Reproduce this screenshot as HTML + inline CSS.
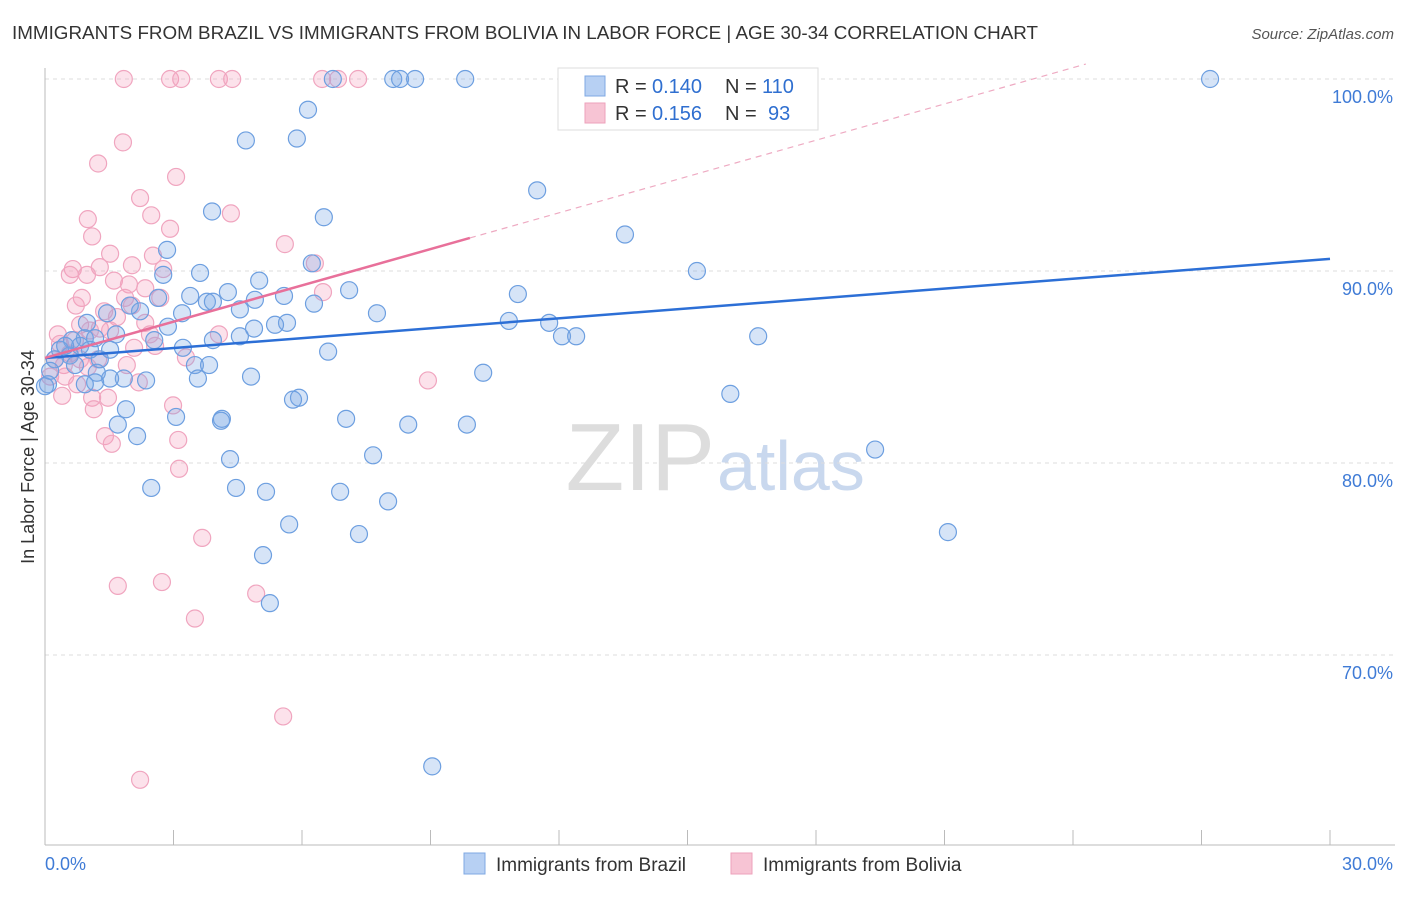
<!DOCTYPE html>
<html><head><meta charset="utf-8"><style>
body{margin:0;background:#fff;font-family:"Liberation Sans",sans-serif;}
svg text{font-family:"Liberation Sans",sans-serif;}
</style></head><body>
<svg id="c" width="1406" height="892" xmlns="http://www.w3.org/2000/svg">
<text x="12" y="39" font-size="18" fill="#333" textLength="1026" lengthAdjust="spacingAndGlyphs">IMMIGRANTS FROM BRAZIL VS IMMIGRANTS FROM BOLIVIA IN LABOR FORCE | AGE 30-34 CORRELATION CHART</text>
<text x="1394" y="39" font-size="15" fill="#555" font-style="italic" text-anchor="end">Source: ZipAtlas.com</text>
<text x="34" y="457" font-size="18" fill="#333" text-anchor="middle" transform="rotate(-90 34 457)">In Labor Force | Age 30-34</text>
<text x="715" y="490" font-size="96" fill="#ddd" text-anchor="end" font-family="Liberation Serif">ZIP</text>
<text x="717" y="490" font-size="70" fill="#c9d8ee">atlas</text>
<g id="grid"></g><g id="pts"></g><g id="lines"></g>
<g>
<rect x="558" y="68" width="260" height="62" fill="#fff" stroke="#ddd"/>
<rect x="585" y="76" width="20" height="20" fill="#b7d0f3" stroke="#7fa8e3"/>
<rect x="585" y="103" width="20" height="20" fill="#f7c4d4" stroke="#eea2bb"/>
<text x="615" y="93" font-size="20" fill="#333">R =</text>
<text x="652" y="93" font-size="20" fill="#2f6fd0">0.140</text>
<text x="725" y="93" font-size="20" fill="#333">N =</text>
<text x="762" y="93" font-size="20" fill="#2f6fd0">110</text>
<text x="615" y="120" font-size="20" fill="#333">R =</text>
<text x="652" y="120" font-size="20" fill="#2f6fd0">0.156</text>
<text x="725" y="120" font-size="20" fill="#333">N =</text>
<text x="768" y="120" font-size="20" fill="#2f6fd0">93</text>
</g>
<g>
<rect x="464" y="853" width="21" height="21" fill="#b7d0f3" stroke="#7fa8e3"/>
<text x="496" y="871" font-size="19" fill="#333">Immigrants from Brazil</text>
<rect x="731" y="853" width="21" height="21" fill="#f7c4d4" stroke="#eea2bb"/>
<text x="763" y="871" font-size="19" fill="#333">Immigrants from Bolivia</text>
</g>
<text x="45" y="870" font-size="18" fill="#3f7bd6">0.0%</text>
<text x="1393" y="870" font-size="18" fill="#3f7bd6" text-anchor="end">30.0%</text>
</svg>
<script>
const yTicks=[100,90,80,70];
const xTicksCount=10;
const brazilX=[8.13,8.29,8.64,9.81,6.72,27.2,6.14,4.69,5.88,11.49,3.90,6.51,13.54,2.85,6.23,3.62,2.76,15.22,5.00,4.27,7.10,11.04,3.39,3.78,2.64,5.58,3.92,6.28,4.55,4.90,7.75,3.20,10.83,11.77,5.65,5.37,4.88,4.55,12.07,12.40,16.65,2.87,2.22,1.98,1.45,0.98,0.93,1.17,0.63,1.66,2.55,3.92,3.22,6.61,3.50,3.83,3.57,4.81,2.36,1.84,1.52,1.21,1.17,10.23,16.0,5.93,5.79,1.89,3.06,4.13,4.11,7.03,8.48,9.85,1.70,2.15,7.66,4.32,19.38,2.48,4.46,5.16,6.89,8.01,5.70,7.33,21.08,5.09,5.25,9.04,0.35,0.58,0.23,0.82,0.12,0.47,0.70,1.05,1.28,0.07,0.93,1.52,0.0];
const brazilY=[100,100,100,100,100,100,98.4,96.8,96.9,94.2,93.1,92.8,91.9,91.1,90.4,89.9,89.8,90.0,89.5,88.9,89.0,88.8,88.7,88.4,88.6,88.7,88.4,88.3,88.0,88.5,87.8,87.8,87.4,87.3,87.3,87.2,87.0,86.6,86.6,86.6,86.6,87.1,87.9,88.2,87.8,87.3,86.5,86.5,86.4,86.7,86.4,86.4,86.0,85.8,85.1,85.1,84.4,84.5,84.3,84.4,84.4,84.7,84.2,84.7,83.6,83.4,83.3,82.8,82.4,82.3,82.2,82.3,82.0,82.0,82.0,81.4,80.4,80.2,80.7,78.7,78.7,78.5,78.5,78.0,76.8,76.3,76.4,75.2,72.7,64.2,85.9,85.6,85.4,86.1,84.8,86.1,85.1,85.9,85.4,84.1,84.1,85.9,84.0];
const boliviaX=[1.84,2.92,3.18,4.06,4.37,6.47,6.84,7.31,1.82,1.24,3.06,2.22,2.48,1.00,2.92,1.10,4.34,5.60,1.52,2.52,6.30,2.03,0.65,1.28,2.76,0.98,0.58,1.61,1.96,2.34,0.86,6.49,1.87,0.72,2.03,2.69,1.38,1.68,2.34,0.82,1.28,2.45,0.30,4.06,3.29,2.57,2.08,1.24,0.44,1.00,1.91,0.75,1.47,1.10,0.40,1.14,2.19,2.99,3.11,1.40,1.56,8.94,3.13,3.67,1.70,2.73,4.93,3.50,5.56,2.22,0.35,0.23,0.58,0.12,0.82,0.47,0.70,1.52,1.05];
const boliviaY=[100,100,100,100,100,100,100,100,96.7,95.6,94.9,93.8,92.9,92.7,92.2,91.8,93.0,91.4,90.9,90.8,90.4,90.3,90.1,90.2,90.1,89.8,89.8,89.5,89.3,89.1,88.6,88.9,88.6,88.2,88.2,88.6,87.9,87.6,87.3,87.2,87.0,86.7,86.7,86.7,85.5,86.1,86.0,85.4,85.1,85.0,85.1,84.1,83.4,83.4,83.5,82.8,84.2,83.0,81.2,81.4,81.0,84.3,79.7,76.1,73.6,73.8,73.2,71.9,66.8,63.5,86.2,85.4,85.7,84.5,85.4,84.5,86.4,86.9,86.9];
const brazilTrend=[85.47,90.63];
const boliviaTrend=[85.47,91.72];
const boliviaSolidEnd=9.92, boliviaDashEnd=24.3;

const NS="http://www.w3.org/2000/svg";
const X=v=>45+v/30*1285;
const Y=v=>79+(100-v)*19.2;
function mk(t,a,p){const e=document.createElementNS(NS,t);for(const k in a)e.setAttribute(k,a[k]);p.appendChild(e);return e;}
const grid=document.getElementById('grid');
yTicks.forEach(t=>{
  const l=mk('line',{x1:45,x2:1395,y1:Y(t),y2:Y(t),stroke:'#ddd','stroke-dasharray':'4,4'},grid);
  
  
  const tx=mk('text',{x:1393,y:Y(t)+24,'font-size':18,fill:'#3f7bd6','text-anchor':'end'},grid);
  tx.textContent=t.toFixed(1)+'%';
  
  
});
const ax=mk('line',{x1:45,x2:1395,y1:845,y2:845,stroke:'#bbb'},grid);


const ay=mk('line',{x1:45,x2:45,y1:68,y2:845,stroke:'#bbb'},grid);


for(let i=0;i<=xTicksCount;i++){
  const t=mk('line',{x1:X(i*3),x2:X(i*3),y1:830,y2:845,stroke:'#bbb'},grid);
  
  
}
const pts=document.getElementById('pts');
boliviaX.forEach((v,i)=>{
  const c=mk('circle',{cx:X(v),cy:Y(boliviaY[i]),r:8.5,fill:'rgba(244,160,188,0.3)',stroke:'#f0a5bf','stroke-width':1.2},pts);
  
  
});
brazilX.forEach((v,i)=>{
  const c=mk('circle',{cx:X(v),cy:Y(brazilY[i]),r:8.5,fill:'rgba(120,165,230,0.3)',stroke:'#6d9fe0','stroke-width':1.2},pts);
  
  
});
const lines=document.getElementById('lines');
const bl=mk('line',{x1:X(0),y1:Y(brazilTrend[0]),x2:X(30),y2:Y(brazilTrend[1]),stroke:'#2c6fd6','stroke-width':2.5},lines);


const slope=(boliviaTrend[1]-boliviaTrend[0])/boliviaSolidEnd;
const pl=mk('line',{x1:X(0),y1:Y(boliviaTrend[0]),x2:X(boliviaSolidEnd),y2:Y(boliviaTrend[1]),stroke:'#e8709a','stroke-width':2.5},lines);


const pd=mk('line',{x1:X(boliviaSolidEnd),y1:Y(boliviaTrend[1]),x2:X(boliviaDashEnd),y2:Y(boliviaTrend[0]+slope*boliviaDashEnd),stroke:'#eeaac2','stroke-width':1.2,'stroke-dasharray':'6,5'},lines);


</script>
</body></html>
